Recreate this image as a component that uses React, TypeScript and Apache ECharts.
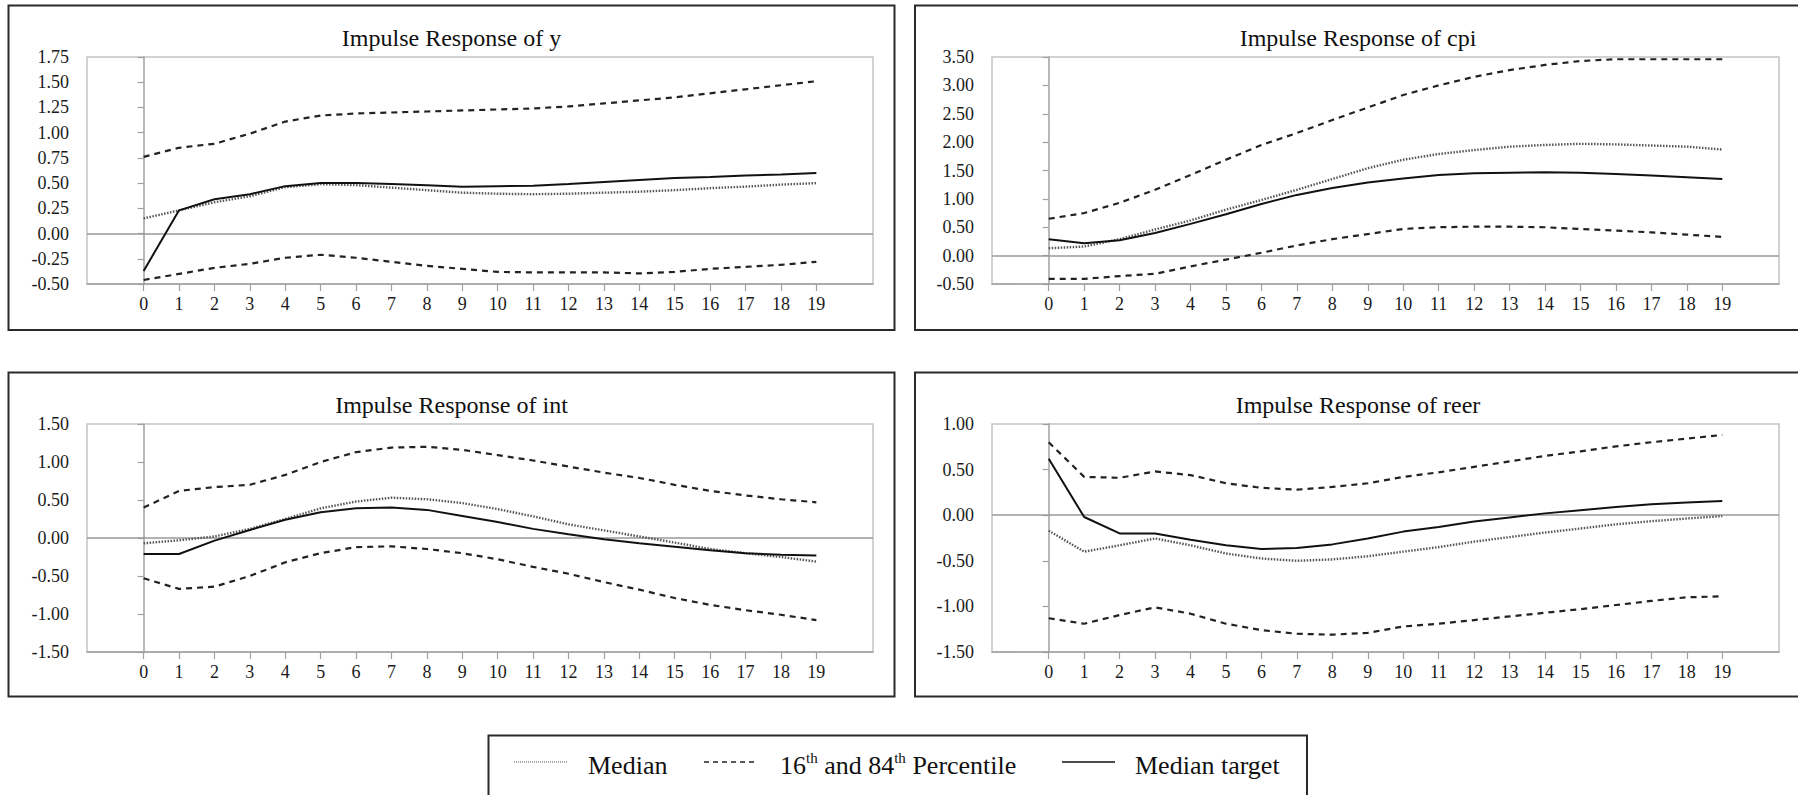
import React, { useEffect, useRef } from "react";
import * as echarts from "echarts";

// ---- data ----
const periods = [0, 1, 2, 3, 4, 5, 6, 7, 8, 9, 10, 11, 12, 13, 14, 15, 16, 17, 18, 19];
const panelTitles = ["Impulse Response of y", "Impulse Response of cpi", "Impulse Response of int", "Impulse Response of reer"];
const legendNames = ["Median", "16th and 84th Percentile", "Median target"];

// y
const yMedian = [0.15, 0.23, 0.31, 0.37, 0.46, 0.49, 0.48, 0.455, 0.43, 0.405, 0.395, 0.39, 0.395, 0.405, 0.415, 0.43, 0.45, 0.465, 0.485, 0.5];
const yP16 = [-0.46, -0.4, -0.34, -0.3, -0.24, -0.21, -0.24, -0.28, -0.32, -0.35, -0.38, -0.385, -0.385, -0.385, -0.395, -0.38, -0.35, -0.33, -0.31, -0.28];
const yP84 = [0.76, 0.85, 0.89, 0.99, 1.11, 1.17, 1.19, 1.2, 1.21, 1.22, 1.23, 1.24, 1.26, 1.29, 1.32, 1.35, 1.39, 1.43, 1.47, 1.51];
const yTarget = [-0.37, 0.23, 0.34, 0.39, 0.47, 0.5, 0.5, 0.49, 0.48, 0.465, 0.47, 0.475, 0.49, 0.51, 0.53, 0.55, 0.56, 0.575, 0.585, 0.6];

// cpi
const cpiMedian = [0.13, 0.16, 0.29, 0.46, 0.62, 0.81, 0.98, 1.16, 1.35, 1.54, 1.69, 1.79, 1.86, 1.92, 1.95, 1.97, 1.96, 1.94, 1.92, 1.87];
const cpiP16 = [-0.41, -0.41, -0.36, -0.32, -0.19, -0.07, 0.05, 0.18, 0.29, 0.38, 0.47, 0.5, 0.51, 0.51, 0.5, 0.47, 0.44, 0.41, 0.37, 0.33];
const cpiP84 = [0.65, 0.75, 0.93, 1.16, 1.42, 1.69, 1.95, 2.16, 2.39, 2.61, 2.83, 3.0, 3.15, 3.27, 3.36, 3.43, 3.46, 3.46, 3.46, 3.46];
const cpiTarget = [0.29, 0.22, 0.27, 0.4, 0.56, 0.73, 0.91, 1.07, 1.19, 1.29, 1.36, 1.42, 1.45, 1.46, 1.47, 1.46, 1.44, 1.41, 1.38, 1.35];

// int
const intMedian = [-0.07, -0.03, 0.02, 0.12, 0.25, 0.39, 0.48, 0.53, 0.51, 0.46, 0.38, 0.285, 0.18, 0.1, 0.02, -0.06, -0.145, -0.2, -0.25, -0.31];
const intP16 = [-0.53, -0.67, -0.64, -0.5, -0.32, -0.2, -0.12, -0.11, -0.145, -0.2, -0.28, -0.38, -0.47, -0.58, -0.68, -0.79, -0.88, -0.95, -1.01, -1.08];
const intP84 = [0.4, 0.62, 0.67, 0.7, 0.83, 1.0, 1.13, 1.19, 1.2, 1.16, 1.09, 1.02, 0.94, 0.86, 0.79, 0.7, 0.62, 0.56, 0.51, 0.47];
const intTarget = [-0.21, -0.21, -0.035, 0.105, 0.24, 0.34, 0.39, 0.4, 0.37, 0.29, 0.21, 0.12, 0.05, -0.015, -0.07, -0.115, -0.16, -0.2, -0.22, -0.23];

// reer
const reerMedian = [-0.17, -0.4, -0.33, -0.255, -0.33, -0.42, -0.475, -0.5, -0.485, -0.45, -0.4, -0.35, -0.29, -0.24, -0.19, -0.146, -0.1, -0.066, -0.036, -0.01];
const reerP16 = [-1.13, -1.19, -1.095, -1.01, -1.08, -1.19, -1.26, -1.3, -1.31, -1.29, -1.22, -1.19, -1.15, -1.11, -1.07, -1.03, -0.985, -0.94, -0.9, -0.89];
const reerP84 = [0.8, 0.42, 0.41, 0.48, 0.44, 0.35, 0.3, 0.28, 0.31, 0.35, 0.42, 0.47, 0.53, 0.59, 0.65, 0.7, 0.755, 0.8, 0.84, 0.88];
const reerTarget = [0.62, -0.02, -0.2, -0.2, -0.27, -0.33, -0.37, -0.36, -0.32, -0.255, -0.18, -0.13, -0.07, -0.025, 0.02, 0.055, 0.09, 0.12, 0.14, 0.155];

const yRanges = [
  { min: -0.5, max: 1.75, interval: 0.25 },
  { min: -0.5, max: 3.5, interval: 0.5 },
  { min: -1.5, max: 1.5, interval: 0.5 },
  { min: -1.5, max: 1.0, interval: 0.5 },
];

const panelData = [
  { median: yMedian, p16: yP16, p84: yP84, target: yTarget },
  { median: cpiMedian, p16: cpiP16, p84: cpiP84, target: cpiTarget },
  { median: intMedian, p16: intP16, p84: intP84, target: intTarget },
  { median: reerMedian, p16: reerP16, p84: reerP84, target: reerTarget },
];

const FONT = "'Liberation Serif', 'Times New Roman', serif";

const grids = [
  { left: 87, top: 57, width: 786, height: 227 },
  { left: 992, top: 57, width: 787, height: 227 },
  { left: 87, top: 424, width: 786, height: 228 },
  { left: 992, top: 424, width: 787, height: 228 },
];
const boxes = [
  { x: 8.5, y: 5.5, width: 886, height: 324.5 },
  { x: 915, y: 5.5, width: 900, height: 324.5 },
  { x: 8.5, y: 372.5, width: 886, height: 324 },
  { x: 915, y: 372.5, width: 900, height: 324 },
];

export default function App() {
  const ref = useRef<HTMLDivElement>(null);
  useEffect(() => {
    if (!ref.current) return;
    const chart = echarts.init(ref.current, null, { renderer: "svg" });
    const pair = (arr: number[]) => periods.map((p, i) => [p, arr[i]]);

    const series: any[] = [];
    panelData.forEach((d, k) => {
      series.push({
        type: "line", name: legendNames[0], xAxisIndex: k, yAxisIndex: k, data: pair(d.median),
        symbol: "none", lineStyle: { color: "#555", width: 2.4, type: [1.5, 1.5] }, z: 3,
      });
      series.push({
        type: "line", name: legendNames[1], xAxisIndex: k, yAxisIndex: k, data: pair(d.p16),
        symbol: "none", lineStyle: { color: "#222", width: 2.2, type: [6, 5] }, z: 3,
      });
      series.push({
        type: "line", name: legendNames[1], xAxisIndex: k, yAxisIndex: k, data: pair(d.p84),
        symbol: "none", lineStyle: { color: "#222", width: 2.2, type: [6, 5] }, z: 3,
      });
      series.push({
        type: "line", name: legendNames[2], xAxisIndex: k, yAxisIndex: k, data: pair(d.target),
        symbol: "none", lineStyle: { color: "#111", width: 2, type: "solid" }, z: 4,
        markLine: {
          silent: true, symbol: ["none", "none"], label: { show: false },
          lineStyle: { color: "#9a9a9a", width: 1.5, type: "solid" },
          data: [{ yAxis: 0 }], z: 1,
        },
      });
    });

    const graphic: any[] = [];
    boxes.forEach((b) => {
      graphic.push({ type: "rect", shape: b, style: { fill: "none", stroke: "#2a2a2a", lineWidth: 2 }, silent: true });
    });
    boxes.forEach((b, k) => {
      graphic.push({
        type: "text", x: b.x + 443, y: b.y + 32,
        style: { text: panelTitles[k], fill: "#111", fontSize: 24, fontFamily: FONT, align: "center", verticalAlign: "middle", textAlign: "center", textVerticalAlign: "middle" },
      });
    });
    // legend box
    graphic.push({ type: "rect", shape: { x: 488.5, y: 735.5, width: 818.5, height: 100 }, style: { fill: "none", stroke: "#2a2a2a", lineWidth: 2 } });
    graphic.push({ type: "line", shape: { x1: 514, y1: 762, x2: 567, y2: 762 }, style: { stroke: "#555", lineWidth: 1.2, lineDash: [1, 1] } });
    graphic.push({ type: "line", shape: { x1: 704, y1: 762, x2: 755, y2: 762 }, style: { stroke: "#222", lineWidth: 1.3, lineDash: [5, 4] } });
    graphic.push({ type: "line", shape: { x1: 1062, y1: 762, x2: 1115, y2: 762 }, style: { stroke: "#111", lineWidth: 1.5 } });
    graphic.push({
      type: "text", x: 588, y: 765,
      style: { text: legendNames[0], fill: "#111", fontSize: 26, fontFamily: FONT, align: "left", verticalAlign: "middle", textAlign: "left", textVerticalAlign: "middle" },
    });
    graphic.push({
      type: "text", x: 780, y: 765,
      style: {
        text: "{b|16}{s|th}{b| and 84}{s|th}{b| Percentile}",
        fill: "#111", fontFamily: FONT, align: "left", verticalAlign: "middle", textAlign: "left", textVerticalAlign: "middle",
        rich: {
          b: { fontSize: 26, fontFamily: FONT, fill: "#111", lineHeight: 30, verticalAlign: "middle" },
          s: { fontSize: 15, fontFamily: FONT, fill: "#111", lineHeight: 30, verticalAlign: "top" },
        },
      },
    });
    graphic.push({
      type: "text", x: 1135, y: 765,
      style: { text: legendNames[2], fill: "#111", fontSize: 26, fontFamily: FONT, align: "left", verticalAlign: "middle", textAlign: "left", textVerticalAlign: "middle" },
    });

    chart.setOption({
      animation: false,
      backgroundColor: "#fff",
      textStyle: { fontFamily: FONT },
      grid: grids.map((g) => ({ ...g, show: true, borderColor: "#c4c4c4", borderWidth: 1.5, backgroundColor: "transparent", containLabel: false })),
      xAxis: grids.map((_, k) => ({
        type: "value", gridIndex: k, min: -1.6, max: 20.6,
        axisLine: { show: true, onZero: false, lineStyle: { color: "#a0a0a0", width: 1.5 } },
        axisTick: { show: true, customValues: periods, length: 7, lineStyle: { color: "#a0a0a0", width: 1.2 } },
        axisLabel: { customValues: periods, color: "#1a1a1a", fontSize: 18, fontFamily: FONT, margin: 11 },
        splitLine: { show: false },
      })),
      yAxis: yRanges.map((r, k) => ({
        type: "value", gridIndex: k, min: r.min, max: r.max, interval: r.interval,
        axisLine: { show: true, lineStyle: { color: "#a0a0a0", width: 1.5 } },
        axisTick: { show: true, length: 6, lineStyle: { color: "#a0a0a0", width: 1.2 } },
        axisLabel: { color: "#1a1a1a", fontSize: 18, fontFamily: FONT, margin: 18, formatter: (v: number) => v.toFixed(2) },
        splitLine: { show: false },
      })),
      series,
      graphic,
    });
    return () => chart.dispose();
  }, []);
  return <div ref={ref} style={{ position: "fixed", left: 0, top: 0, width: 1798, height: 795, background: "#fff" }} />;
}
